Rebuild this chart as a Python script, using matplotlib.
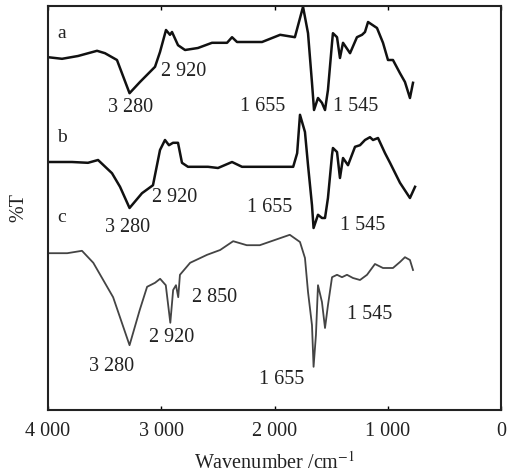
import matplotlib
matplotlib.use("Agg")
import matplotlib.pyplot as plt
from matplotlib.ticker import FixedLocator

plt.rcParams['font.family'] = ['Liberation Serif', 'DejaVu Serif']
plt.rcParams['mathtext.fontset'] = 'stix'

# Curve a (wavenumber cm-1, transmittance, arbitrary units)
wn_a = [4000, 3876, 3735, 3567, 3497, 3391, 3347, 3280, 3188, 3055, 3011, 2958,
        2923, 2905, 2852, 2790, 2676, 2552, 2419, 2375, 2331, 2110, 1950, 1820,
        1748, 1704, 1669, 1651, 1616, 1581, 1554, 1528, 1492, 1484, 1448, 1422,
        1395, 1333, 1272, 1227, 1201, 1174, 1095, 1042, 998, 954, 892, 848, 804, 777]
t_a = [88.2, 87.8, 88.5, 89.8, 89.2, 87.5, 84.2, 79.2, 82.0, 85.8, 89.5, 95.0,
       93.8, 94.5, 91.2, 90.0, 90.5, 91.8, 91.8, 93.2, 92.0, 92.0, 93.8, 93.2,
       100.8, 94.2, 81.8, 75.0, 78.0, 76.8, 75.0, 80.0, 91.8, 94.2, 93.2, 88.0,
       91.8, 89.2, 93.2, 93.8, 94.5, 97.0, 95.5, 91.8, 87.5, 87.5, 84.2, 82.0, 78.0, 81.8]

# Curve b
wn_b = [4000, 3788, 3647, 3558, 3435, 3364, 3280, 3170, 3073, 3011, 2967, 2932,
        2896, 2852, 2817, 2764, 2587, 2499, 2375, 2287, 2100, 1835, 1800, 1775,
        1731, 1704, 1669, 1655, 1616, 1581, 1554, 1528, 1492, 1484, 1448, 1422,
        1395, 1351, 1289, 1245, 1201, 1157, 1130, 1086, 1024, 980, 892, 804, 759]
t_b = [62.0, 62.0, 61.8, 62.5, 59.2, 55.8, 50.5, 54.2, 56.2, 65.0, 67.5, 66.2,
       66.8, 66.8, 61.8, 60.8, 60.8, 60.5, 62.0, 60.8, 60.8, 60.8, 64.2, 73.8,
       69.5, 61.2, 51.2, 45.5, 48.8, 48.0, 48.0, 53.0, 63.8, 65.5, 64.5, 58.0,
       63.0, 61.2, 65.8, 66.2, 67.5, 68.2, 67.5, 68.0, 64.2, 61.8, 56.8, 53.0, 55.8]

# Curve c
wn_c = [4000, 3830, 3700, 3600, 3425, 3280, 3190, 3125, 3055, 3010, 2960, 2920,
        2895, 2870, 2850, 2835, 2745, 2595, 2480, 2365, 2245, 2130, 1865, 1775,
        1731, 1704, 1669, 1655, 1634, 1616, 1581, 1554, 1528, 1492, 1448, 1404,
        1360, 1307, 1245, 1183, 1113, 1042, 954, 892, 848, 804, 777]
t_c = [39.2, 39.2, 39.8, 36.8, 28.2, 16.2, 25.0, 30.8, 31.8, 32.8, 31.2, 21.8,
       30.0, 31.2, 28.2, 33.8, 36.8, 38.8, 40.0, 42.2, 41.2, 41.2, 43.8, 42.0,
       38.0, 29.5, 21.2, 10.8, 18.8, 31.2, 27.0, 20.5, 26.2, 33.2, 33.8, 33.2,
       33.8, 33.0, 32.5, 33.8, 36.5, 35.5, 35.5, 37.0, 38.2, 37.5, 35.0]

# Annotations: (text, wavenumber, transmittance)
curve_names = [("a", 3876, 94.2), ("b", 3876, 68.2), ("c", 3876, 48.0)]
peak_labels = [
    ("2 920", 2799, 84.5), ("3 280", 3267, 75.5), ("1 655", 2102, 75.8), ("1 545", 1280, 75.8),
    ("2 920", 2879, 53.0), ("3 280", 3294, 45.5), ("1 655", 2040, 50.5), ("1 545", 1218, 46.2),
    ("2 850", 2525, 28.2), ("2 920", 2905, 18.0), ("3 280", 3435, 10.8), ("1 545", 1157, 23.8),
    ("1 655", 1934, 7.5),
]

x_ticks = [4000, 3000, 2000, 1000, 0]
x_tick_labels = ["4 000", "3 000", "2 000", "1 000", "0"]

fig = plt.figure(figsize=(5.08, 4.74), dpi=100)
ax = fig.add_axes([48/508, 64/474, 453/508, 404/474])

ax.plot(wn_a, t_a, color="#111111", lw=1.8)
ax.plot(wn_b, t_b, color="#111111", lw=1.8)
ax.plot(wn_c, t_c, color="#444444", lw=1.3)

for txt, x, y in curve_names:
    ax.text(x, y, txt, ha="center", va="center", fontsize=14, color="#222222")
for txt, x, y in peak_labels:
    ax.text(x, y, txt, ha="center", va="center", fontsize=14.5, color="#222222")

ax.set_xlim(4000, 0)
ax.set_ylim(0, 101)
ax.xaxis.set_major_locator(FixedLocator(x_ticks))
ax.set_xticklabels(x_tick_labels, fontsize=14.5, color="#222222")
ax.set_yticks([])
ax.tick_params(axis="x", direction="in", top=True, length=3, width=1, pad=9)
for s in ax.spines.values():
    s.set_linewidth(1.5)
    s.set_color("#222222")

ax.set_xlabel("Wavenumber /cm$^{-1}$", fontsize=14.5, color="#222222", labelpad=7)
ax.set_ylabel("%T", fontsize=14.5, color="#222222", labelpad=14)

fig.savefig("out.png", dpi=100)
